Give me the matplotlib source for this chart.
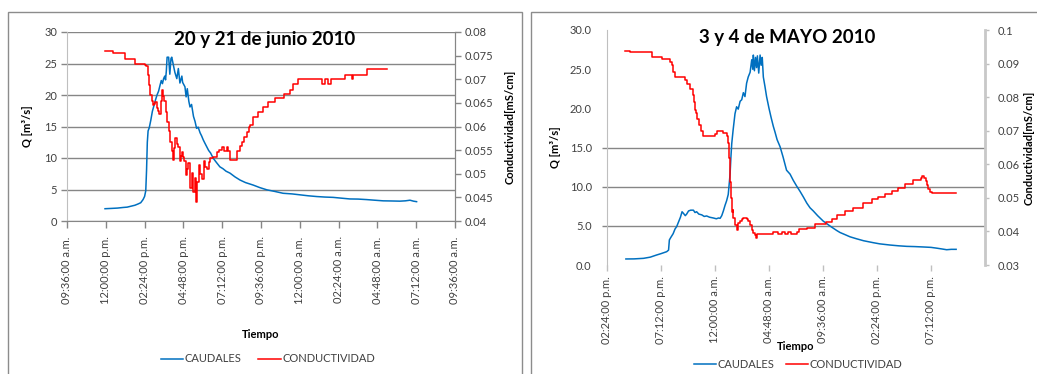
import matplotlib
matplotlib.use("Agg")
import matplotlib.pyplot as plt
from matplotlib.patches import Rectangle
from matplotlib.lines import Line2D
from matplotlib.ticker import FixedLocator, FuncFormatter

plt.rcParams['font.family'] = ['Lato', 'DejaVu Sans']

# ---------------- 20 y 21 de junio 2010 (días desde las 09:36 a.m.) ----------------
jun_q_t = [0.098, 0.115, 0.130, 0.145, 0.155, 0.165, 0.175, 0.183, 0.190, 0.196,
           0.200, 0.203, 0.205, 0.207, 0.209, 0.212, 0.216, 0.220, 0.224, 0.228,
           0.232, 0.236, 0.240, 0.243, 0.246, 0.249, 0.252, 0.254, 0.256, 0.258,
           0.262, 0.265, 0.268, 0.270, 0.274, 0.278, 0.283, 0.287, 0.291, 0.296,
           0.298, 0.304, 0.307, 0.310, 0.314, 0.317, 0.321, 0.326, 0.330, 0.334,
           0.338, 0.343, 0.347, 0.351, 0.355, 0.360, 0.365, 0.370, 0.377, 0.385,
           0.394, 0.402, 0.410, 0.420, 0.433, 0.446, 0.460, 0.480, 0.497, 0.515,
           0.535, 0.557, 0.580, 0.601, 0.622, 0.644, 0.665, 0.686, 0.708, 0.729,
           0.750, 0.772, 0.793, 0.815, 0.836, 0.858, 0.872, 0.884, 0.893, 0.901]
jun_q = [1.95, 2.0, 2.05, 2.15, 2.2, 2.35, 2.5, 2.7, 2.9, 3.4,
         3.9, 4.8, 8.0, 12.5, 14.3, 14.8, 16.0, 17.4, 18.3, 19.2,
         20.0, 20.6, 21.6, 22.3, 21.8, 22.6, 23.0, 22.4, 23.8, 26.0,
         26.0, 23.3, 25.8, 26.0, 24.8, 23.6, 22.6, 24.2, 21.9, 23.0,
         22.0, 21.3, 19.7, 21.0, 19.0, 18.1, 18.5, 16.6, 15.8, 14.7,
         14.9, 14.0, 13.5, 12.9, 12.4, 11.8, 11.2, 10.8, 9.95, 9.3,
         8.6, 8.3, 7.9, 7.6, 7.0, 6.5, 6.1, 5.7, 5.3, 4.95,
         4.7, 4.4, 4.3, 4.15, 4.0, 3.88, 3.8, 3.75, 3.62, 3.5,
         3.48, 3.4, 3.3, 3.2, 3.18, 3.15, 3.2, 3.3, 3.15, 3.07]

jun_c_t = [0.098, 0.119, 0.150, 0.175, 0.200, 0.204, 0.208, 0.210, 0.212, 0.214,
           0.218, 0.221, 0.224, 0.227, 0.231, 0.234, 0.238, 0.241, 0.244, 0.246,
           0.248, 0.251, 0.254, 0.257, 0.262, 0.266, 0.270, 0.274, 0.276, 0.279,
           0.283, 0.287, 0.290, 0.293, 0.296, 0.299, 0.302, 0.307, 0.310, 0.313,
           0.317, 0.321, 0.326, 0.330, 0.333, 0.336, 0.341, 0.344, 0.347, 0.352,
           0.356, 0.360, 0.365, 0.369, 0.377, 0.386, 0.392, 0.399, 0.405, 0.412,
           0.416, 0.420, 0.430, 0.437, 0.445, 0.450, 0.457, 0.463, 0.468, 0.472,
           0.480, 0.493, 0.506, 0.519, 0.536, 0.558, 0.575, 0.583, 0.596, 0.656,
           0.665, 0.673, 0.680, 0.716, 0.734, 0.738, 0.772, 0.826]
jun_c = [0.0760, 0.0755, 0.0742, 0.0732, 0.0730, 0.0727, 0.0718, 0.0709, 0.0688, 0.0667,
         0.0655, 0.0646, 0.0648, 0.0651, 0.0639, 0.0632, 0.0626, 0.0654, 0.0668, 0.0677,
         0.0665, 0.0653, 0.0630, 0.0610, 0.0590, 0.0568, 0.0548, 0.0529, 0.0555, 0.0575,
         0.0562, 0.0557, 0.0526, 0.0538, 0.0547, 0.0535, 0.0526, 0.0497, 0.0510, 0.0522,
         0.0469, 0.0501, 0.0462, 0.0490, 0.0441, 0.0483, 0.0519, 0.0500, 0.0489, 0.0526,
         0.0515, 0.0510, 0.0525, 0.0533, 0.0536, 0.0547, 0.0550, 0.0557, 0.0548, 0.0557,
         0.0548, 0.0529, 0.0529, 0.0548, 0.0558, 0.0568, 0.0578, 0.0589, 0.0598, 0.0603,
         0.0621, 0.0631, 0.0642, 0.0651, 0.0660, 0.0668, 0.0677, 0.0689, 0.0700, 0.0689,
         0.0700, 0.0689, 0.0700, 0.0710, 0.0700, 0.0710, 0.0721, 0.0721]

jun_tick_pos = [0.0, 0.1, 0.2, 0.3, 0.4, 0.5, 0.6, 0.7, 0.8, 0.9, 1.0]
jun_tick_labels = ["09:36:00 a.m.", "12:00:00 p.m.", "02:24:00 p.m.", "04:48:00 p.m.",
                   "07:12:00 p.m.", "09:36:00 p.m.", "12:00:00 a.m.", "02:24:00 a.m.",
                   "04:48:00 a.m.", "07:12:00 a.m.", "09:36:00 a.m."]
jun_q_ticks = [0, 5, 10, 15, 20, 25, 30]
jun_c_ticks = [0.04, 0.045, 0.05, 0.055, 0.06, 0.065, 0.07, 0.075, 0.08]

# ---------------- 3 y 4 de mayo 2010 (días desde las 02:24 p.m.) ----------------
may_q_t = [0.070, 0.100, 0.135, 0.160, 0.184, 0.200, 0.221, 0.228, 0.231, 0.236,
           0.245, 0.252, 0.258, 0.265, 0.272, 0.278, 0.283, 0.290, 0.295, 0.302,
           0.310, 0.320, 0.326, 0.332, 0.340, 0.351, 0.360, 0.369, 0.380, 0.394,
           0.405, 0.413, 0.419, 0.425, 0.431, 0.437, 0.443, 0.449, 0.453, 0.456,
           0.459, 0.462, 0.467, 0.474, 0.480, 0.486, 0.493, 0.499, 0.505, 0.511,
           0.517, 0.523, 0.530, 0.536, 0.540, 0.542, 0.546, 0.550, 0.554, 0.557,
           0.562, 0.567, 0.571, 0.575, 0.579, 0.585, 0.591, 0.600, 0.608, 0.616,
           0.622, 0.630, 0.641, 0.652, 0.665, 0.678, 0.690, 0.702, 0.715, 0.727,
           0.740, 0.752, 0.764, 0.780, 0.801, 0.825, 0.851, 0.863, 0.880, 0.900,
           0.924, 0.950, 0.986, 1.010, 1.048, 1.080, 1.110, 1.140, 1.172, 1.200,
           1.221, 1.240, 1.258, 1.275, 1.293]
may_q = [0.77, 0.78, 0.85, 1.0, 1.28, 1.45, 1.7, 1.9, 3.2, 3.5,
         4.0, 4.6, 4.9, 5.5, 6.1, 6.8, 6.6, 6.3, 6.5, 6.9,
         7.0, 7.0, 6.7, 6.8, 6.5, 6.4, 6.2, 6.26, 6.1, 6.0,
         5.9, 6.0, 5.96, 6.3, 6.9, 7.6, 8.2, 9.0, 10.5, 11.7,
         13.8, 15.5, 17.2, 19.3, 20.2, 19.9, 20.9, 21.1, 22.0, 21.5,
         23.2, 24.0, 24.6, 26.2, 25.0, 26.8, 24.8, 26.5, 25.2, 26.7,
         24.5, 26.8, 25.5, 26.5, 24.0, 22.8, 21.5, 20.0, 18.8, 17.7,
         17.0, 16.0, 15.1, 13.8, 12.1, 11.6, 10.8, 10.1, 9.4, 8.7,
         7.9, 7.3, 6.9, 6.3, 5.6, 5.0, 4.4, 4.15, 3.9, 3.6,
         3.35, 3.1, 2.85, 2.7, 2.55, 2.45, 2.38, 2.35, 2.3, 2.25,
         2.15, 2.05, 1.95, 2.0, 2.0]

may_c_t = [0.068, 0.085, 0.165, 0.202, 0.233, 0.240, 0.246, 0.252, 0.289, 0.298,
           0.307, 0.317, 0.322, 0.326, 0.330, 0.334, 0.342, 0.348, 0.354, 0.400,
           0.406, 0.431, 0.443, 0.449, 0.452, 0.456, 0.459, 0.462, 0.465, 0.468,
           0.474, 0.480, 0.486, 0.493, 0.499, 0.505, 0.511, 0.517, 0.524, 0.530,
           0.536, 0.542, 0.548, 0.551, 0.554, 0.616, 0.634, 0.647, 0.659, 0.672,
           0.680, 0.702, 0.712, 0.740, 0.770, 0.811, 0.832, 0.851, 0.881, 0.912,
           0.949, 0.980, 1.005, 1.030, 1.054, 1.079, 1.104, 1.135, 1.162, 1.168,
           1.175, 1.180, 1.185, 1.190, 1.196, 1.202, 1.293]
may_c = [0.0938, 0.0933, 0.0919, 0.0914, 0.0905, 0.0895, 0.0875, 0.0859, 0.0852, 0.0840,
         0.0825, 0.0806, 0.0785, 0.0762, 0.0752, 0.0735, 0.0717, 0.0700, 0.0685, 0.0690,
         0.0699, 0.0694, 0.0685, 0.0662, 0.0620, 0.0548, 0.0500, 0.0459, 0.0465, 0.0440,
         0.0419, 0.0404, 0.0425, 0.0430, 0.0438, 0.0441, 0.0440, 0.0436, 0.0430, 0.0419,
         0.0405, 0.0395, 0.0389, 0.0380, 0.0392, 0.0399, 0.0392, 0.0399, 0.0392, 0.0399,
         0.0392, 0.0399, 0.0408, 0.0411, 0.0421, 0.0429, 0.0438, 0.0449, 0.0461, 0.0471,
         0.0484, 0.0497, 0.0503, 0.0511, 0.0520, 0.0528, 0.0540, 0.0553, 0.0560, 0.0564,
         0.0558, 0.0549, 0.0538, 0.0527, 0.0518, 0.0513, 0.0513]

may_tick_pos = [0.0, 0.2, 0.4, 0.6, 0.8, 1.0, 1.2]
may_tick_labels = ["02:24:00 p.m.", "07:12:00 p.m.", "12:00:00 a.m.", "04:48:00 a.m.",
                   "09:36:00 a.m.", "02:24:00 p.m.", "07:12:00 p.m."]
may_q_ticks = [0, 5, 10, 15, 20, 25, 30]
may_c_ticks = [0.03, 0.04, 0.05, 0.06, 0.07, 0.08, 0.09, 0.1]
may_grid_levels = [5, 10, 15]

legend_labels = ["CAUDALES", "CONDUCTIVIDAD"]

# ---------------- styling ----------------
W, H = 1037, 374
BLUE = "#0070C0"
RED = "#FF0000"
GRID = "#868686"
AXIS = "#BFBFBF"
TXT = "#404040"
TICK_FS = 8
LABEL_FS = 8

fig = plt.figure(figsize=(W / 100, H / 100), dpi=100)


def fax(x0, y0, x1, y1):
    """Axes rectangle from pixel corners (top-left origin)."""
    return [x0 / W, 1 - y1 / H, (x1 - x0) / W, (y1 - y0) / H]


def general_fmt(v, _pos):
    return f"{v:g}"


# chart frames
for (x0, x1) in [(8, 522), (531, 1100)]:
    fig.add_artist(Rectangle((x0 / W, 1 - 420 / H), (x1 - x0) / W, (420 - 12) / H,
                             transform=fig.transFigure, fill=False,
                             edgecolor="#8C8C8C", linewidth=1.0, clip_on=False))

# ============ left chart: junio ============
ax1 = fig.add_axes(fax(67, 32, 455, 221))
ax1.plot(jun_q_t, jun_q, color=BLUE, lw=1.1)
ax1.set_xlim(0, 1)
ax1.set_ylim(0, 30)
ax1.yaxis.set_major_locator(FixedLocator(jun_q_ticks))
ax1.xaxis.set_major_locator(FixedLocator(jun_tick_pos))
ax1.set_xticklabels(jun_tick_labels, rotation=90, fontsize=TICK_FS, color=TXT)
ax1.tick_params(axis='y', labelsize=TICK_FS, labelcolor=TXT, color=GRID,
                length=4, width=1, pad=3)
ax1.tick_params(axis='x', color=GRID, length=5, width=1, pad=6)
ax1.grid(axis='y', color=GRID, linewidth=1)
ax1.set_axisbelow(True)
ax1.spines['top'].set_visible(False)
ax1.spines['left'].set_color(AXIS)
ax1.spines['bottom'].set_color(GRID)
ax1.spines['right'].set_color(GRID)
ax1.set_ylabel("Q [m³/s]", fontsize=LABEL_FS, fontweight='bold', labelpad=8)
ax1.set_xlabel("Tiempo", fontsize=LABEL_FS, fontweight='bold', labelpad=18)

ax1b = ax1.twinx()
ax1b.plot(jun_c_t, jun_c, color=RED, lw=1.1, drawstyle='steps-post')
ax1b.set_ylim(0.04, 0.08)
ax1b.yaxis.set_major_locator(FixedLocator(jun_c_ticks))
ax1b.yaxis.set_major_formatter(FuncFormatter(general_fmt))
ax1b.tick_params(axis='y', labelsize=TICK_FS, labelcolor=TXT, color=GRID,
                 length=4, width=1, pad=3)
for s in ['top', 'left', 'bottom']:
    ax1b.spines[s].set_visible(False)
ax1b.spines['right'].set_color(GRID)
ax1b.set_ylabel("Conductividad[mS/cm]", fontsize=LABEL_FS, fontweight='bold',
                labelpad=8)

fig.text(265 / W, 1 - 39 / H, "20 y 21 de junio 2010", ha='center', va='center',
         fontsize=13.5, fontweight='bold')

handles = [Line2D([], [], color=BLUE, lw=1.1), Line2D([], [], color=RED, lw=1.1)]
fig.legend(handles, legend_labels, loc='center', bbox_to_anchor=(268 / W, 1 - 359 / H),
           ncol=2, frameon=False, fontsize=TICK_FS, handlelength=2.0,
           handletextpad=0.15, columnspacing=1.5, labelcolor=TXT)

# ============ right chart: mayo ============
ax2 = fig.add_axes(fax(607, 30, 985, 265))
ax2.plot(may_q_t, may_q, color=BLUE, lw=1.1)
ax2.set_xlim(0, 1.4)
ax2.set_ylim(0, 30)
ax2.yaxis.set_major_locator(FixedLocator(may_q_ticks))
ax2.yaxis.set_major_formatter(FuncFormatter(lambda v, p: f"{v:.1f}"))
ax2.xaxis.set_major_locator(FixedLocator(may_tick_pos))
ax2.set_xticklabels(may_tick_labels, rotation=90, fontsize=TICK_FS, color=TXT)
ax2.tick_params(axis='y', labelsize=TICK_FS, labelcolor=TXT, length=0, pad=11)
ax2.tick_params(axis='x', color=AXIS, length=4, width=1, pad=4)
ax2.hlines(may_grid_levels, -0.014, 1.0, transform=ax2.get_yaxis_transform(),
           colors=GRID, linewidth=1, clip_on=False, zorder=0.5)
for s in ['top', 'bottom', 'right']:
    ax2.spines[s].set_visible(False)
ax2.spines['left'].set_color(AXIS)
ax2.set_ylabel("Q [m³/s]", fontsize=LABEL_FS, fontweight='bold', labelpad=6)
ax2.set_xlabel("Tiempo", fontsize=LABEL_FS, fontweight='bold', labelpad=-2)

ax2b = ax2.twinx()
ax2b.plot(may_c_t, may_c, color=RED, lw=1.1, drawstyle='steps-post')
ax2b.set_ylim(0.03, 0.1)
ax2b.yaxis.set_major_locator(FixedLocator(may_c_ticks))
ax2b.yaxis.set_major_formatter(FuncFormatter(general_fmt))
ax2b.tick_params(axis='y', labelsize=TICK_FS, labelcolor=TXT, color=AXIS,
                 length=3, width=1, pad=6)
for s in ['top', 'left', 'bottom']:
    ax2b.spines[s].set_visible(False)
ax2b.spines['right'].set_color("#C8C8C8")
ax2b.spines['right'].set_linewidth(2)
ax2b.set_ylabel("Conductividad[mS/cm]", fontsize=LABEL_FS, fontweight='bold',
                labelpad=3)

fig.text(787 / W, 1 - 37 / H, "3 y 4 de MAYO 2010", ha='center', va='center',
         fontsize=13.5, fontweight='bold')

handles2 = [Line2D([], [], color=BLUE, lw=1.1), Line2D([], [], color=RED, lw=1.1)]
fig.legend(handles2, legend_labels, loc='center', bbox_to_anchor=(798 / W, 1 - 364 / H),
           ncol=2, frameon=False, fontsize=TICK_FS, handlelength=2.0,
           handletextpad=0.15, columnspacing=1.0, labelcolor=TXT)

fig.savefig("out.png", dpi=100)
